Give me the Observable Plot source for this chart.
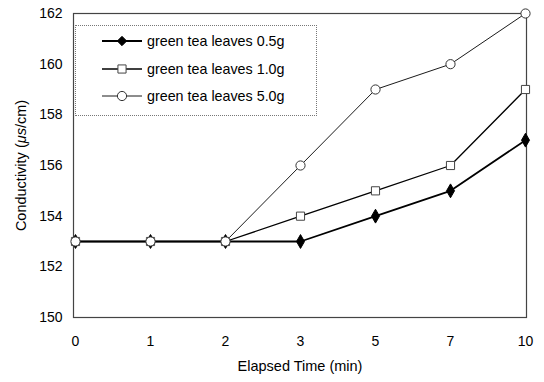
<!DOCTYPE html>
<html>
<head>
<meta charset="utf-8">
<script src="https://cdn.jsdelivr.net/npm/d3@7"></script>
<script src="https://cdn.jsdelivr.net/npm/@observablehq/plot@0.6"></script>
<style>
  html, body { margin: 0; padding: 0; background: #fff; }
  #wrap { position: relative; width: 544px; height: 382px; font-family: "Liberation Sans", Arial, sans-serif; }
  #legend { position: absolute; left: 75px; top: 25px; width: 242px; height: 91px; border: 1px dotted #777; box-sizing: border-box; background: #fff; }
  .row { position: absolute; left: 0; height: 20px; display: flex; align-items: center; font-size: 14.3px; color: #000; white-space: nowrap; }
  .row svg { margin-left: 26px; margin-right: 5px; }
</style>
</head>
<body>
<div id="wrap"><div id="legend"></div></div>
<script>
const times = ["0", "1", "2", "3", "5", "7", "10"];
const seriesNames = ["green tea leaves 0.5g", "green tea leaves 1.0g", "green tea leaves 5.0g"];
const cond05 = [153, 153, 153, 153, 154, 155, 157];
const cond10 = [153, 153, 153, 154, 155, 156, 159];
const cond50 = [153, 153, 153, 156, 159, 160, 162];
const yTicks = [150, 152, 154, 156, 158, 160, 162];

const seriesValues = [cond05, cond10, cond50];
const data = seriesNames.flatMap((s, i) => times.map((t, j) => ({series: s, time: t, value: seriesValues[i][j]})));
const styles = {
  [seriesNames[0]]: {sw: 1.8, symbol: "diamond", fill: "#000", stroke: "#000", r: 4.2},
  [seriesNames[1]]: {sw: 1.3, symbol: "square", fill: "#fff", stroke: "#444", r: 4.6},
  [seriesNames[2]]: {sw: 0.9, symbol: "circle", fill: "#fff", stroke: "#333", r: 4.6}
};

const marks = [
  Plot.frame({stroke: "#444", strokeWidth: 1.2}),
  Plot.axisX({tickSize: 0, tickPadding: 19, fontSize: 14, label: "Elapsed Time (min)", labelAnchor: "center", labelArrow: "none", labelOffset: 53}),
  Plot.axisY({ticks: yTicks, tickSize: 0, tickPadding: 11, fontSize: 14, label: "Conductivity (μs/cm)", labelAnchor: "center", labelArrow: "none", labelOffset: 58})
];
for (const s of seriesNames) {
  const st = styles[s];
  const d = data.filter(r => r.series === s);
  marks.push(Plot.line(d, {x: "time", y: "value", stroke: "#000", strokeWidth: st.sw}));
}
for (const s of seriesNames) {
  const st = styles[s];
  const d = data.filter(r => r.series === s);
  marks.push(Plot.dot(d, {x: "time", y: "value", symbol: () => st.symbol, r: st.r, fill: st.fill, stroke: st.stroke, strokeWidth: 1}));
}

const chart = Plot.plot({
  width: 544, height: 382,
  marginLeft: 73, marginRight: 18, marginTop: 13, marginBottom: 65,
  style: {fontFamily: "Liberation Sans, Arial, sans-serif", fontSize: "14px", color: "#000", background: "#fff"},
  x: {type: "point", domain: times, padding: 0},
  y: {domain: [150, 162]},
  symbol: {type: "identity"},
  marks
});
document.getElementById("wrap").prepend(chart);

// enlarge axis titles slightly and italicise the unit μs in the y label
chart.querySelectorAll("text").forEach(t => {
  const txt0 = t.textContent;
  if (txt0.startsWith("Elapsed")) t.setAttribute("font-size", "14.5");
  if (txt0.startsWith("Conductivity")) {
    t.setAttribute("font-size", "14.5");
    t.textContent = "";
    const parts = [["Conductivity (", null], ["μs", "italic"], ["/cm)", null]];
    for (const [txt, fs] of parts) {
      const ts = document.createElementNS("http://www.w3.org/2000/svg", "tspan");
      ts.textContent = txt;
      if (fs) ts.setAttribute("font-style", fs);
      t.appendChild(ts);
    }
  }
});

// legend
const legend = document.getElementById("legend");
const rowTops = [5, 33, 60];
seriesNames.forEach((s, i) => {
  const st = styles[s];
  const row = document.createElement("div");
  row.className = "row";
  row.style.top = rowTops[i] + "px";
  const sym = d3.symbol(st.symbol === "diamond" ? d3.symbolDiamond2 : st.symbol === "square" ? d3.symbolSquare : d3.symbolCircle, Math.PI * st.r * st.r)();
  row.innerHTML = `<svg width="40" height="14"><line x1="0" x2="40" y1="7" y2="7" stroke="#000" stroke-width="${st.sw}"/><path d="${sym}" transform="translate(20,7)" fill="${st.fill}" stroke="${st.stroke}"/></svg><span>${s}</span>`;
  legend.appendChild(row);
});
</script>
</body>
</html>
